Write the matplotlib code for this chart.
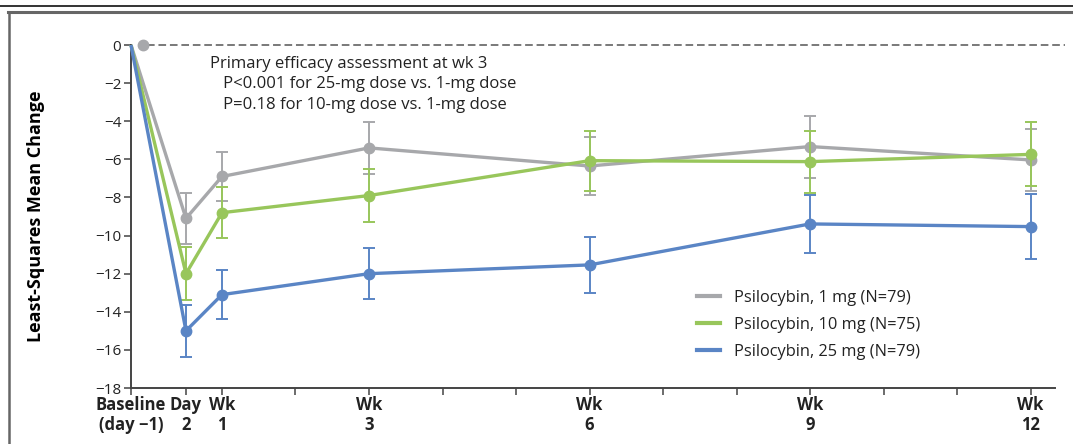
import matplotlib
matplotlib.use("Agg")
import matplotlib.pyplot as plt
from matplotlib.lines import Line2D

plt.rcParams['font.family'] = ['Open Sans', 'DejaVu Sans']

# ---- data ----
tick_labels = ["Baseline\n(day \u22121)", "Day\n2", "Wk\n1", "Wk\n3", "Wk\n6", "Wk\n9", "Wk\n12"]
# x positions (in weeks, axis is not strictly linear for baseline/day 2)
x_pos = [-0.238, 0.51, 1, 3, 6, 9, 12]
minor_weeks = [2, 4, 5, 7, 8, 10, 11]

series_names = ["Psilocybin, 1 mg (N=79)", "Psilocybin, 10 mg (N=75)", "Psilocybin, 25 mg (N=79)"]
mean_1mg = [0, -9.1, -6.9, -5.4, -6.35, -5.33, -6.03]
mean_10mg = [0, -12.0, -8.8, -7.9, -6.07, -6.12, -5.74]
mean_25mg = [0, -15.0, -13.1, -12.0, -11.54, -9.39, -9.53]
err_1mg = [0, 1.35, 1.3, 1.37, 1.53, 1.63, 1.63]
err_10mg = [0, 1.4, 1.35, 1.37, 1.57, 1.63, 1.68]
err_25mg = [0, 1.35, 1.3, 1.34, 1.49, 1.54, 1.7]
baseline_dot_x = -0.075

colors = ["#a7a8ab", "#98c65b", "#5a85c5"]

fig = plt.figure(figsize=(10.73, 4.44), dpi=100)
ax = fig.add_axes([131/1073, 1-388/444, (1055-131)/1073, (388-45)/444])

means = [mean_1mg, mean_10mg, mean_25mg]
errs = [err_1mg, err_10mg, err_25mg]

# dashed zero line
ax.plot([-0.02, 12.47], [0, 0], ls=(0, (5, 2.5)), color="#555555", lw=1.1, clip_on=False, zorder=1)
ax.plot([baseline_dot_x], [0], 'o', color=colors[0], ms=7.5, clip_on=False, zorder=5)

for i in range(3):
    m, e, c = means[i], errs[i], colors[i]
    ax.errorbar(x_pos[1:], m[1:], yerr=e[1:], fmt='none', ecolor=c, elinewidth=1.4,
                capsize=4.5, capthick=1.4, zorder=2 + i, clip_on=False)
    ax.plot(x_pos, m, '-', color=c, lw=2.4, zorder=3 + i, clip_on=False, solid_capstyle='butt')
    ax.plot(x_pos[1:], m[1:], 'o', color=c, ms=7.5, zorder=3 + i, clip_on=False)

ax.set_xlim(-0.238, 12.333)
ax.set_ylim(-18, 0)
ax.set_yticks(range(-18, 1, 2))
ax.set_yticklabels([("\u2212%d" % abs(v)) if v < 0 else "0" for v in range(-18, 1, 2)], fontsize=11)
ax.set_xticks(x_pos)
ax.set_xticklabels(tick_labels, fontsize=12, fontweight='bold', linespacing=1.1)
ax.set_xticks(minor_weeks, minor=True)

for s in ['top', 'right']:
    ax.spines[s].set_visible(False)
for s in ['left', 'bottom']:
    ax.spines[s].set_color('#444444')
    ax.spines[s].set_linewidth(1.4)
ax.tick_params(axis='both', which='both', direction='out', length=5, width=1.1, color='#444444', colors='#222222')
ax.tick_params(axis='x', which='minor', length=5)
ax.tick_params(axis='x', pad=1)
ax.tick_params(axis='y', pad=2)

ax.set_ylabel("Least-Squares Mean Change", fontsize=13, fontweight='bold')
ax.yaxis.set_label_coords(-0.0935, 0.5)

ax.text(0.085, 0.968, "Primary efficacy assessment at wk 3\n   P<0.001 for 25-mg dose vs. 1-mg dose\n   P=0.18 for 10-mg dose vs. 1-mg dose",
        transform=ax.transAxes, fontsize=12, va='top', ha='left', linespacing=1.36, color='#222222')

handles = [Line2D([0], [0], color=c, lw=3) for c in colors]
leg = ax.legend(handles, series_names, loc='upper left', bbox_to_anchor=(0.605, 0.305), frameon=False,
                fontsize=11.8, handlelength=1.4, handletextpad=0.9, labelspacing=0.68, borderaxespad=0)
for t in leg.get_texts():
    t.set_color('#222222')

# frame lines
fig.add_artist(Line2D([0, 1], [1 - 6/444, 1 - 6/444], color='#111111', lw=1.2, transform=fig.transFigure))
fig.add_artist(Line2D([8/1073, 1], [1 - 12/444, 1 - 12/444], color='#666666', lw=2.2, transform=fig.transFigure))
fig.add_artist(Line2D([9/1073, 9/1073], [0, 1 - 12/444], color='#666666', lw=1.8, transform=fig.transFigure))

fig.savefig("out.png", dpi=100)
